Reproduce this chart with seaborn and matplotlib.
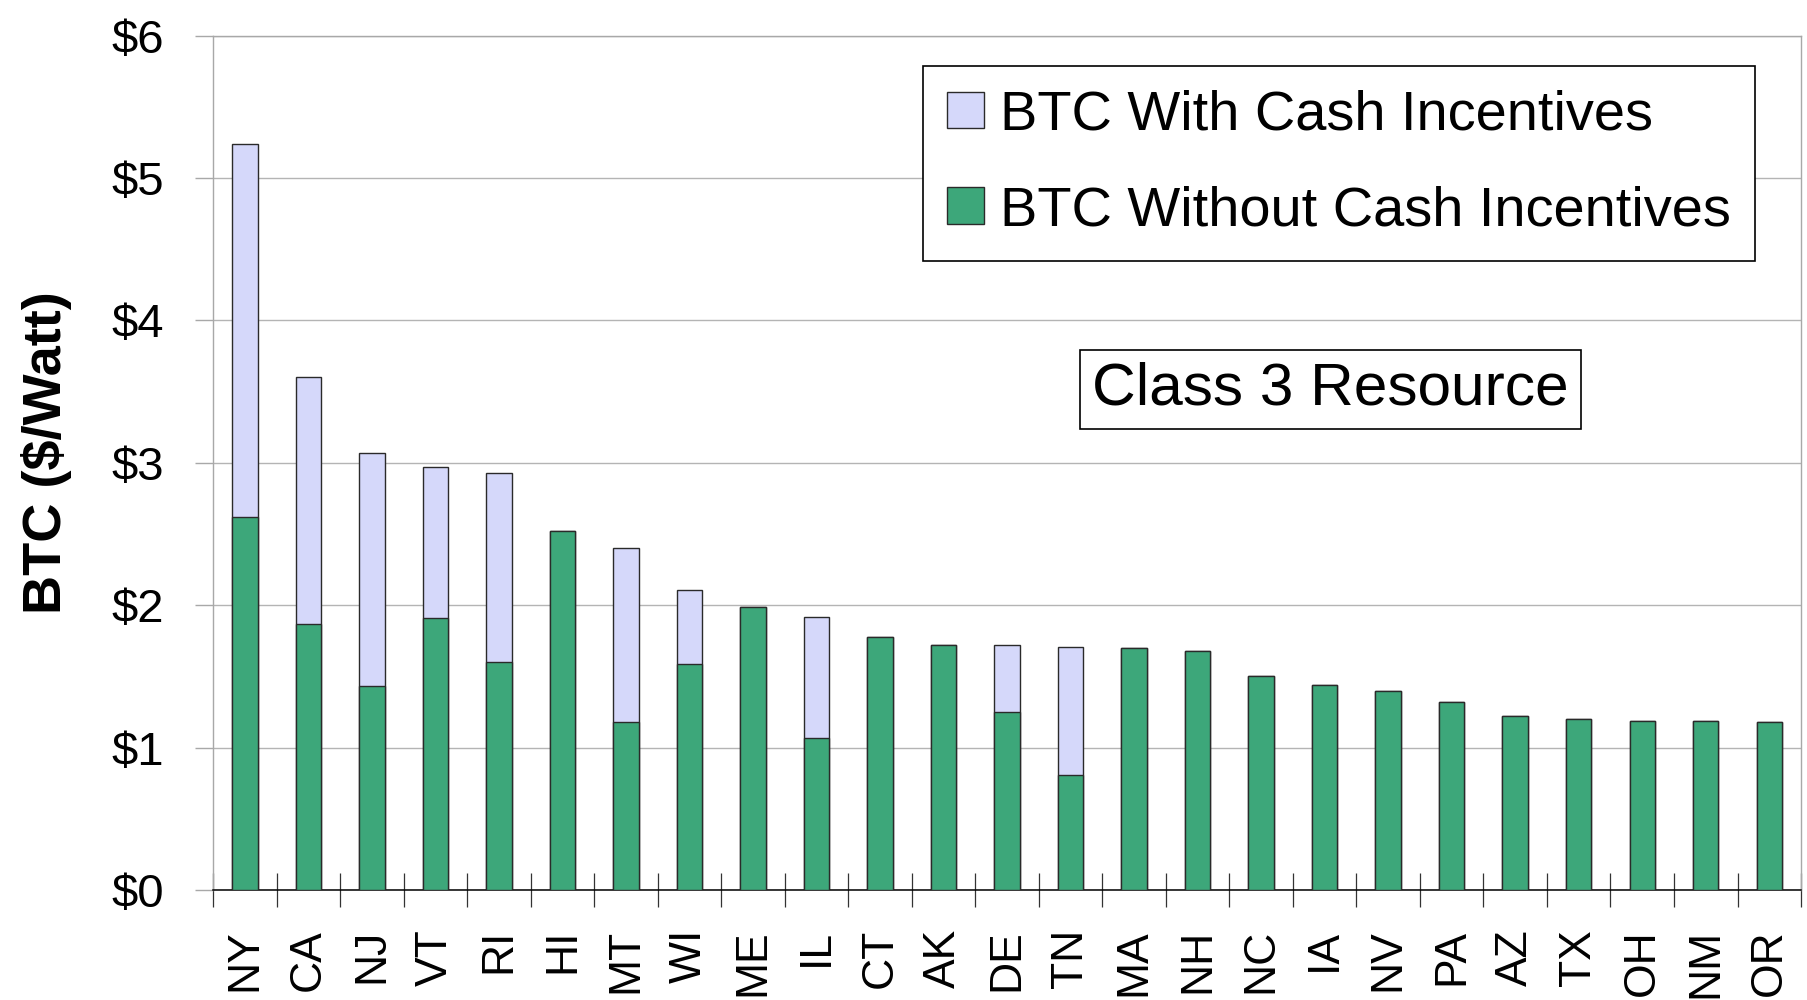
import numpy as np
import matplotlib
matplotlib.use("Agg")
import matplotlib.pyplot as plt
import seaborn as sns
from matplotlib.patches import Patch

# ---------------- data ----------------
states = ["NY", "CA", "NJ", "VT", "RI", "HI", "MT", "WI", "ME", "IL", "CT", "AK", "DE",
          "TN", "MA", "NH", "NC", "IA", "NV", "PA", "AZ", "TX", "OH", "NM", "OR"]
btc_without = [2.62, 1.87, 1.43, 1.91, 1.60, 2.52, 1.18, 1.59, 1.99, 1.07, 1.78, 1.72, 1.25,
               0.81, 1.70, 1.68, 1.50, 1.44, 1.40, 1.32, 1.22, 1.20, 1.19, 1.19, 1.18]
btc_with = [5.24, 3.60, 3.07, 2.97, 2.93, 2.52, 2.40, 2.11, 1.99, 1.92, 1.78, 1.72, 1.72,
            1.71, 1.70, 1.68, 1.50, 1.44, 1.40, 1.32, 1.22, 1.20, 1.19, 1.19, 1.18]
y_ticks = [0, 1, 2, 3, 4, 5, 6]
y_tick_labels = ["$0", "$1", "$2", "$3", "$4", "$5", "$6"]
legend_labels = ["BTC With Cash Incentives", "BTC Without Cash Incentives"]
y_label = "BTC ($/Watt)"
note_text = "Class 3 Resource"

# ---------------- style ----------------
sns.set_style("white")
plt.rcParams["font.family"] = ["Liberation Sans", "DejaVu Sans"]
plt.rcParams["text.parse_math"] = False
plt.rcParams["text.color"] = "black"
plt.rcParams["axes.labelcolor"] = "black"
plt.rcParams["xtick.labelcolor"] = "black"
plt.rcParams["ytick.labelcolor"] = "black"

lav = "#D5D8FA"
green = "#3DA77A"
edge = "#2a2a2a"
gray = "#a8a8a8"

fig = plt.figure(figsize=(18.07, 10), dpi=100)
ax = fig.add_axes([0.1179, 0.110, 0.8788, 0.8543])

sns.barplot(x=states, y=btc_with, order=states, color=lav, saturation=1, width=0.4,
            edgecolor=edge, linewidth=1.0, errorbar=None, ax=ax, zorder=2)
sns.barplot(x=states, y=btc_without, order=states, color=green, saturation=1, width=0.4,
            edgecolor=edge, linewidth=1.0, errorbar=None, ax=ax, zorder=3)

ax.set_xlim(-0.5, len(states) - 0.5)
ax.set_ylim(0, 6)
ax.set_yticks(y_ticks)
ax.set_yticklabels(y_tick_labels, fontsize=34, color="black")
ax.yaxis.grid(True, color="#b4b4b4", linewidth=1.0)
ax.xaxis.grid(False)
ax.set_axisbelow(True)

ax.tick_params(axis="y", which="major", left=True, direction="out", length=13,
               width=1.0, color=gray, pad=22, labelcolor="black")
ax.tick_params(axis="x", which="major", bottom=True, length=0, pad=28,
               labelsize=32, labelrotation=90, labelcolor="black")
ax.set_xticks(np.arange(-0.5, len(states), 1), minor=True)
ax.tick_params(axis="x", which="minor", bottom=True, direction="inout", length=24,
               width=0.9, color="#333333")
ax.set_xlabel("")

for s in ["left", "right", "top"]:
    ax.spines[s].set_color(gray)
    ax.spines[s].set_linewidth(1.0)
ax.spines["bottom"].set_color("black")
ax.spines["bottom"].set_linewidth(1.1)

ax.set_ylabel(y_label, fontsize=39, fontweight="bold", color="black")
ax.yaxis.set_label_coords(-0.0888, 0.512)

handles = [Patch(facecolor=lav, edgecolor=edge, linewidth=1.0, label=legend_labels[0]),
           Patch(facecolor=green, edgecolor=edge, linewidth=1.0, label=legend_labels[1])]
leg = fig.legend(handles=handles, loc="center", bbox_to_anchor=(0.741, 0.8366),
                 fontsize=40.3, frameon=True, fancybox=False, edgecolor="black",
                 framealpha=1, borderpad=0.42, labelspacing=0.78, handlelength=0.66,
                 handleheight=0.63, handletextpad=0.29, borderaxespad=0)
leg.get_frame().set_linewidth(1.2)
for t in leg.get_texts():
    t.set_color("black")

fig.text(0.7364, 0.6108, note_text, ha="center", va="center", fontsize=43.5, color="black",
         bbox=dict(boxstyle="square,pad=0.2", fc="white", ec="black", lw=1.2))

fig.savefig("out.png", dpi=100)
